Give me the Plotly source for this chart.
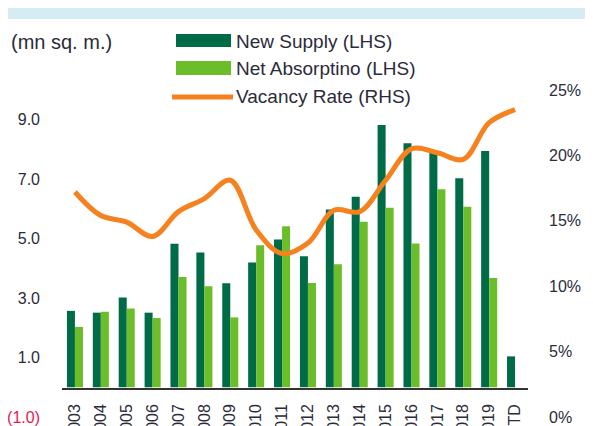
import plotly.graph_objects as go

categories = ["2003", "2004", "2005", "2006", "2007", "2008", "2009", "2010", "2011",
              "2012", "2013", "2014", "2015", "2016", "2017", "2018", "2019", "YTD"]
new_supply = [2.57, 2.51, 3.02, 2.51, 4.83, 4.53, 3.50, 4.20, 4.97,
              4.41, 5.98, 6.41, 8.82, 8.21, 7.95, 7.03, 7.95, 1.04]
net_absorption = [2.03, 2.54, 2.65, 2.33, 3.71, 3.40, 2.35, 4.78, 5.42,
                  3.51, 4.14, 5.57, 6.04, 4.84, 6.66, 6.07, 3.68, None]
vacancy_rate = [17.2, 15.4, 14.9, 13.8, 15.7, 16.7, 18.1, 14.3, 12.5,
                13.3, 15.8, 15.7, 18.1, 20.5, 20.2, 19.7, 22.5, 23.5]
left_ticks = [-1, 1, 3, 5, 7, 9]
left_ticktext = ["<span style='color:#E8174B'>(1.0)</span>", "1.0", "3.0", "5.0", "7.0", "9.0"]
right_ticks = [0, 5, 10, 15, 20, 25]
right_ticktext = ["0%", "5%", "10%", "15%", "20%", "25%"]

DARK = "#006B47"
LIGHT = "#6BBE2A"
ORANGE = "#F5821F"
TXT = "#2B2B3A"
FONT = "Liberation Sans, Arial, sans-serif"

W, H = 593, 426
OFF = 8  # page body margin offset
L, R, T, B = 62 - OFF, 528 - OFF, 90 - OFF, 417 - OFF
AXIS_Y = 389 - OFF


def px(x):
    return (x - OFF - L) / (R - L)


def py(y):
    return (B - (y - OFF)) / (B - T)


fig = go.Figure()
fig.add_trace(go.Bar(x=categories, y=new_supply, name="New Supply (LHS)",
                     marker=dict(color=DARK, line=dict(width=0))))
fig.add_trace(go.Bar(x=categories, y=net_absorption, name="Net Absorptino (LHS)",
                     marker=dict(color=LIGHT, line=dict(width=0))))
fig.add_trace(go.Scatter(x=categories, y=vacancy_rate, name="Vacancy Rate (RHS)",
                         yaxis="y2", mode="lines",
                         line=dict(color=ORANGE, width=5, shape="spline", smoothing=1.0)))

shapes = [
    dict(type="rect", xref="paper", yref="paper", x0=px(0), x1=px(W + 10), y0=py(19), y1=py(0),
         fillcolor="#D5EDF2", line=dict(width=0), layer="below"),
    dict(type="rect", xref="paper", yref="paper", x0=px(176), x1=px(231), y0=py(47), y1=py(34),
         fillcolor=DARK, line=dict(width=0)),
    dict(type="rect", xref="paper", yref="paper", x0=px(176), x1=px(231), y0=py(75), y1=py(61),
         fillcolor=LIGHT, line=dict(width=0)),
    dict(type="line", xref="paper", yref="paper", x0=px(172), x1=px(233), y0=py(97), y1=py(97),
         line=dict(color=ORANGE, width=5)),
]

annotations = [
    dict(text="(mn sq. m.)", x=px(9), y=py(42), size=20),
    dict(text="New Supply (LHS)", x=px(234), y=py(41), size=19),
    dict(text="Net Absorptino (LHS)", x=px(234), y=py(68), size=19),
    dict(text="Vacancy Rate (RHS)", x=px(234), y=py(96), size=19),
]
for a in annotations:
    s = a.pop("size")
    a.update(xref="paper", yref="paper", xanchor="left", yanchor="middle", showarrow=False,
             font=dict(family=FONT, size=s, color=TXT))

fig.update_layout(
    width=W, height=H,
    margin=dict(l=L, r=W - R, t=T, b=H - B, pad=0),
    paper_bgcolor="white", plot_bgcolor="white",
    showlegend=False,
    barmode="group", bargap=0.38, bargroupgap=0,
    shapes=shapes, annotations=annotations,
    xaxis=dict(type="category", anchor="free", position=(B - AXIS_Y) / (B - T),
               showline=True, linecolor="#333333", linewidth=1.5,
               showgrid=False, zeroline=False, ticks="", tickangle=-90,
               tickfont=dict(family=FONT, size=16, color=TXT),
               ticklabelstandoff=8, ticklabeloverflow="allow",
               automargin=False, range=[-0.5, 17.5]),
    yaxis=dict(range=[-1, 10], tickvals=left_ticks, ticktext=left_ticktext,
               showgrid=False, zeroline=False, showline=False, ticks="",
               tickfont=dict(family=FONT, size=16, color=TXT),
               ticklabelstandoff=21, ticklabeloverflow="allow", automargin=False),
    yaxis2=dict(range=[0, 25], overlaying="y", side="right", tickvals=right_ticks,
                ticktext=right_ticktext,
                showgrid=False, zeroline=False, showline=False, ticks="",
                tickfont=dict(family=FONT, size=16, color=TXT),
                ticklabelstandoff=20, ticklabeloverflow="allow", automargin=False),
)

fig.write_html("out.html")
